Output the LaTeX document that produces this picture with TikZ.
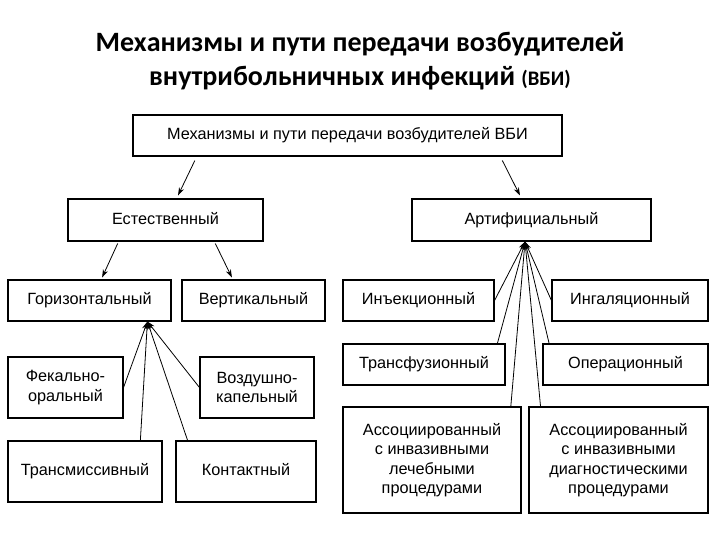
\documentclass[tikz,border=0pt]{standalone}
\usepackage{fontspec}
\setmainfont{Liberation Sans}
\newfontfamily\titlefont{Carlito}
\usetikzlibrary{arrows.meta,calc}

\tikzset{
    box/.style={draw, line width=0.8pt, inner sep=2pt, align=center,
        font=\fontsize{12.2}{14.6}\selectfont},
    oneline/.style={text height=9pt, text depth=2.5pt},
    link/.style={line width=0.6pt, -{Stealth[length=6pt,width=4pt]}}
}

\begin{document}
\begin{tikzpicture}[x=0.75pt, y=-0.75pt]
    \useasboundingbox (0,0) rectangle (720,540);

    % Title
    \node[font=\titlefont\bfseries\fontsize{21}{25}\selectfont, align=center] (title) at (360,61)
        {Механизмы и пути передачи возбудителей\\
         внутрибольничных инфекций {\fontsize{15.5}{18}\selectfont(ВБИ)}};

    % Top level
    \node[box, oneline, minimum width=321.75pt, minimum height=30.75pt] (top) at (347.5,135.5)
        {Механизмы и пути передачи возбудителей ВБИ};

    % Second level
    \node[box, oneline, minimum width=146.25pt, minimum height=31.5pt] (est) at (165.5,220) {Естественный};
    \node[box, oneline, minimum width=179.25pt, minimum height=31.5pt] (art) at (531.5,220) {Артифициальный};

    % Natural routes
    \node[box, oneline, minimum width=122.25pt, minimum height=30.75pt] (gor) at (89.5,300.5) {Горизонтальный};
    \node[box, oneline, minimum width=107.25pt, minimum height=30.75pt] (vert) at (253.5,300.5) {Вертикальный};
    \node[box, minimum width=86.25pt, minimum height=45.75pt] (fek) at (65.5,387.5) {Фекально-\\оральный};
    \node[box, minimum width=85.5pt, minimum height=45.75pt] (voz) at (257,387.5) {Воздушно-\\капельный};
    \node[box, oneline, minimum width=115.5pt, minimum height=45.75pt] (trm) at (85,471.5) {Трансмиссивный};
    \node[box, oneline, minimum width=105pt, minimum height=45.75pt] (kon) at (246,471.5) {Контактный};

    % Artificial routes
    \node[box, oneline, minimum width=113.25pt, minimum height=30.75pt] (inj) at (418.5,300.5) {Инъекционный};
    \node[box, oneline, minimum width=117pt, minimum height=30.75pt] (ing) at (630,300.5) {Ингаляционный};
    \node[box, oneline, minimum width=121.5pt, minimum height=30.75pt] (trf) at (424,364.5) {Трансфузионный};
    \node[box, oneline, minimum width=123.75pt, minimum height=30.75pt] (opr) at (625.5,364.5) {Операционный};
    \node[box, minimum width=133.5pt, minimum height=79.5pt] (asl) at (432,460)
        {Ассоциированный\\с инвазивными\\лечебными\\процедурами};
    \node[box, minimum width=134.25pt, minimum height=79.5pt] (asr) at (618.5,460)
        {Ассоциированный\\с инвазивными\\диагностическими\\процедурами};

    % Hubs and spoke ends
    \coordinate (hubL) at ($(gor.south west)!0.853!(gor.south east)$);
    \coordinate (hubR) at ($(art.south west)!0.473!(art.south east)$);
    \coordinate (trm-in) at ($(trm.north west)!0.857!(trm.north east)$);
    \coordinate (kon-in) at ($(kon.north west)!0.086!(kon.north east)$);
    \coordinate (trf-in) at ($(trf.north west)!0.95!(trf.north east)$);
    \coordinate (opr-in) at ($(opr.north west)!0.04!(opr.north east)$);
    \coordinate (asl-in) at ($(asl.north west)!0.94!(asl.north east)$);
    \coordinate (asr-in) at ($(asr.north west)!0.067!(asr.north east)$);

    % Arrows from the top
    \draw[link] ($(top.south west)!0.145!(top.south east)+(0,4)$) -- ($(est.north west)!0.564!(est.north east)+(0,-3)$);
    \draw[link] ($(top.south west)!0.86!(top.south east)+(0,4)$) -- ($(art.north west)!0.452!(art.north east)+(0,-3)$);
    \draw[link] ($(est.south west)!0.256!(est.south east)+(0,2)$) -- ($(gor.north west)!0.577!(gor.north east)+(0,-2)$);
    \draw[link] ($(est.south west)!0.754!(est.south east)+(0,2)$) -- ($(vert.north west)!0.35!(vert.north east)+(0,-2)$);

    % Spokes into the horizontal route
    \foreach \src in {fek.east, voz.west, trm-in, kon-in}
        \draw[link] (\src) -- (hubL);

    % Spokes into the artificial route
    \foreach \src in {inj.east, ing.west, trf-in, opr-in, asl-in, asr-in}
        \draw[link] (\src) -- (hubR);

\end{tikzpicture}
\end{document}
